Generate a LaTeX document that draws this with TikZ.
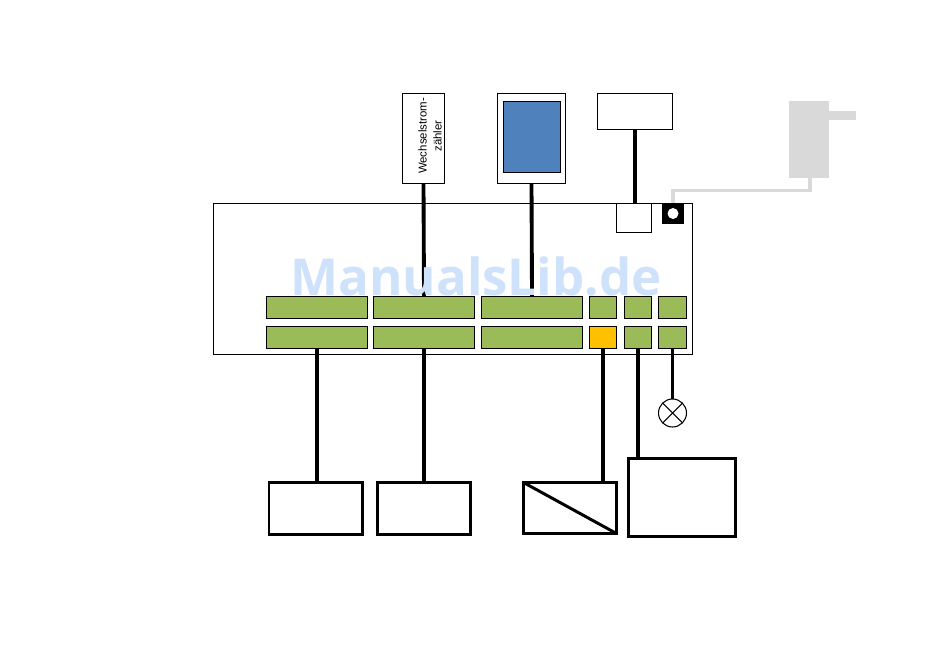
\documentclass[tikz,border=0pt]{standalone}
\usepackage{fontspec}
\setmainfont{Liberation Sans}
\newfontfamily\markfont{Open Sans}

\begin{document}
\begin{tikzpicture}[x=1cm,y=1cm,line cap=butt,line join=miter]

% Colors
\definecolor{bargreen}{RGB}{155,187,89}
\definecolor{barorange}{RGB}{255,192,0}
\definecolor{screenblue}{RGB}{79,129,189}
\definecolor{adaptergray}{RGB}{217,217,217}
\definecolor{markblue}{RGB}{207,226,251}

% Styles
\tikzset{
  thinbox/.style={draw=black,fill=white,line width=0.6pt,inner sep=0pt,outer sep=0pt},
  thickbox/.style={draw=black,fill=white,line width=1.7pt,inner sep=0pt,outer sep=0pt},
  termbar/.style={draw=black,line width=0.6pt,inner sep=0pt,outer sep=0pt,minimum height=0.44cm},
  grayblock/.style={fill=adaptergray,inner sep=0pt,outer sep=0pt},
  wire/.style={draw=black,line width=2.2pt},
  cable/.style={draw=adaptergray,line width=2.27pt}
}

\useasboundingbox (0,0) rectangle (19,13.16);

% Main housing
\node[thinbox,minimum width=9.58cm,minimum height=3.02cm] (housing) at (9.06,7.58) {};

% Upper row of terminals
\foreach \nm/\xx/\ww in {upA/6.34/2.02,upB/8.48/2.02,upC/10.64/2.02,upD/12.06/0.54,upE/12.76/0.54,upF/13.45/0.56} {
  \node[termbar,fill=bargreen,minimum width=\ww cm] (\nm) at (\xx,7.01) {};
}

% Lower row of terminals
\foreach \nm/\xx/\ww/\cc in {lowA/6.34/2.02/bargreen,lowB/8.48/2.02/bargreen,lowC/10.64/2.02/bargreen,lowD/12.06/0.54/barorange,lowE/12.76/0.54/bargreen,lowF/13.45/0.56/bargreen} {
  \node[termbar,fill=\cc,minimum width=\ww cm] (\nm) at (\xx,6.41) {};
}

% Devices above the housing
\node[thinbox,minimum width=0.84cm,minimum height=1.8cm] (meter) at (8.47,10.39) {};
\node[rotate=90,align=center,font=\fontsize{6.5}{8.5}\selectfont,inner sep=0pt,xshift=0.05cm,yshift=-0.13cm] (meterlabel) at (meter.center) {Wechselstrom-\\zähler};
\node[thinbox,minimum width=1.36cm,minimum height=1.8cm] (tablet) at (10.63,10.39) {};
\node[thinbox,fill=screenblue,minimum width=1.14cm,minimum height=1.42cm] (screen) at (10.64,10.42) {};
\node[thinbox,minimum width=1.5cm,minimum height=0.72cm] (topbox) at (12.70,10.93) {};

% Small box and socket in the housing
\node[thinbox,minimum width=0.7cm,minimum height=0.58cm] (smallbox) at (12.68,8.80) {};
\node[fill=black,inner sep=0pt,outer sep=0pt,minimum width=0.44cm,minimum height=0.42cm] (socket) at (13.46,8.89) {};
\node[circle,fill=white,inner sep=0pt,minimum size=0.22cm] (hole) at (socket.center) {};

% Power adapter
\node[grayblock,minimum width=0.8cm,minimum height=1.54cm] (adapter) at (16.18,10.37) {};
\node[grayblock,minimum width=0.54cm,minimum height=0.18cm] (prong) at (16.85,10.85) {};
\coordinate (cableend) at (16.2,9.6);
\coordinate (cablebend) at (16.2,9.35);
\draw[cable] (socket.north) |- (cablebend) -- (cableend);

% Devices below the housing
\node[thickbox,minimum width=1.87cm,minimum height=1.04cm] (loadA) at (6.315,2.99) {};
\node[thickbox,minimum width=1.86cm,minimum height=1.04cm] (loadB) at (8.48,2.99) {};
\node[thickbox,minimum width=1.86cm,minimum height=1.02cm] (converter) at (11.40,3.00) {};
\node[thickbox,minimum width=2.15cm,minimum height=1.56cm] (bigbox) at (13.635,3.21) {};
\draw[line width=1.7pt] (converter.north west) -- (converter.south east);

% Lamp
\node[circle,thinbox,minimum size=0.56cm] (lamp) at (13.45,4.90) {};
\draw[line width=0.6pt] (lamp.north west) -- (lamp.south east);
\draw[line width=0.6pt] (lamp.south west) -- (lamp.north east);

% Wires from the top
\draw[wire] (meter.south) -- (upB.north);
\draw[wire] (tablet.south) -- (upC.north);
\draw[wire] (topbox.south) -- (topbox.south |- smallbox.north);

% Wires to the bottom
\draw[wire] (lowA.south) -- (lowA.south |- loadA.north);
\draw[wire] (lowB.south) -- (loadB.north);
\draw[wire] (lowD.south) -- (lowD.south |- converter.north);
\draw[wire] (lowE.south) -- (lowE.south |- bigbox.north);
\draw[wire] (lowF.south) -- (lamp.north);

% Watermark
\node[anchor=base,text=markblue,inner sep=0pt,font=\markfont\bfseries\fontsize{29}{31}\selectfont] (watermark) at (9.52,7.24) {ManualsLib.de};

\end{tikzpicture}
\end{document}
